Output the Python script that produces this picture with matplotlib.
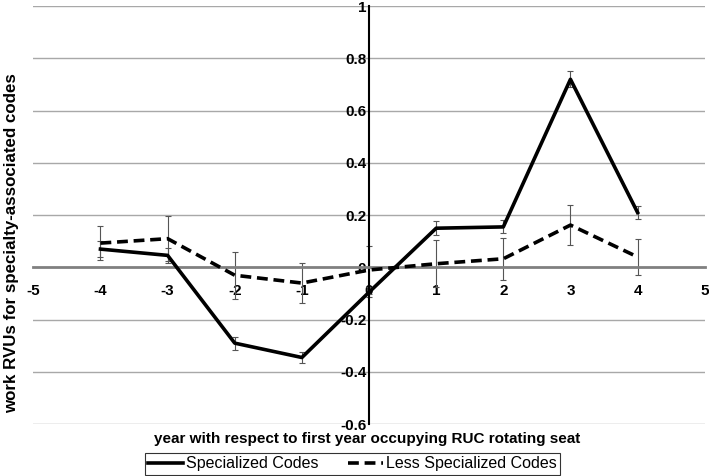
import numpy as np
import matplotlib.pyplot as plt

plt.rcParams['font.family'] = ['Liberation Sans', 'DejaVu Sans']
plt.rcParams['axes.unicode_minus'] = False

years = [-4, -3, -2, -1, 0, 1, 2, 3, 4]
spec = [0.07, 0.046, -0.29, -0.345, -0.095, 0.15, 0.155, 0.72, 0.21]
spec_err = [0.03, 0.03, 0.025, 0.022, 0.02, 0.027, 0.025, 0.03, 0.025]
less = [0.093, 0.11, -0.03, -0.06, -0.01, 0.014, 0.033, 0.162, 0.04]
less_err = [0.065, 0.085, 0.09, 0.077, 0.09, 0.09, 0.08, 0.078, 0.07]

fig = plt.figure(figsize=(7.09, 4.76), dpi=100)
ax = fig.add_axes([0.047, 0.109, 0.947, 0.878])

# gridlines
for g in [-0.6, -0.4, -0.2, 0.2, 0.4, 0.6, 0.8, 1.0]:
    ax.axhline(g, color='#a8a8a8', lw=1, zorder=0)

ax.errorbar(years, spec, yerr=spec_err, fmt='none', ecolor='#555555',
            elinewidth=0.8, capsize=2.5, capthick=0.8, zorder=2)
ax.errorbar(years, less, yerr=less_err, fmt='none', ecolor='#555555',
            elinewidth=0.8, capsize=2.5, capthick=0.8, zorder=2)
ax.plot(years, spec, color='black', lw=2.6, label='Specialized Codes', zorder=3)
ax.plot(years, less, color='black', lw=2.6, ls=(0, (3, 1.6)),
        label='Less Specialized Codes', zorder=3)

ax.set_xlim(-5, 5)
ax.set_ylim(-0.6, 1.0)
ax.set_xticks(range(-5, 6))
ax.set_yticks(np.round(np.arange(-0.6, 1.01, 0.2), 1))
ax.set_yticklabels(['-0.6', '-0.4', '-0.2', '0', '0.2', '0.4', '0.6', '0.8', '1'])

ax.spines['top'].set_visible(False)
ax.spines['right'].set_visible(False)
ax.spines['left'].set_position(('data', 0))
ax.spines['bottom'].set_position(('data', 0))
ax.spines['left'].set_color('black')
ax.spines['left'].set_linewidth(1.5)
ax.spines['bottom'].set_color('#808080')
ax.spines['bottom'].set_linewidth(2)
ax.tick_params(axis='both', length=0, labelsize=11)
ax.tick_params(axis='x', pad=12)
ax.tick_params(axis='y', pad=2)
for t in ax.get_xticklabels() + ax.get_yticklabels():
    t.set_fontweight('bold')
ax.patch.set_visible(False)

fig.text(0.518, 0.078, 'year with respect to first year occupying RUC rotating seat',
         ha='center', va='center', fontsize=11, fontweight='bold')
fig.text(0.016, 0.49, 'work RVUs for specialty-associated codes', rotation=90,
         ha='center', va='center', fontsize=12.2, fontweight='bold')

leg = fig.legend(loc='center', bbox_to_anchor=(0.497, 0.0255), ncol=2,
                 frameon=True, fancybox=False, edgecolor='black', fontsize=11.5,
                 handlelength=2.2, handletextpad=0.2, columnspacing=1.8,
                 borderpad=0.2)
leg.get_frame().set_linewidth(0.8)

fig.savefig('out.png', dpi=100)
